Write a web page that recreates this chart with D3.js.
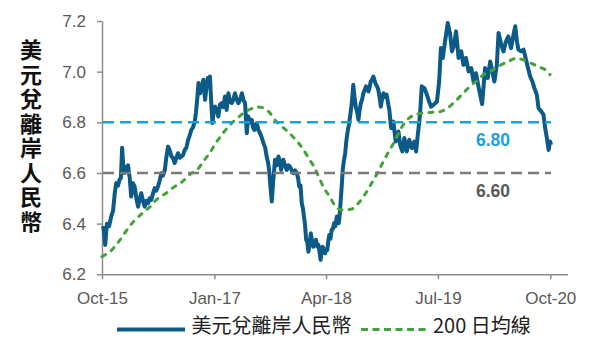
<!DOCTYPE html>
<html>
<head>
<meta charset="utf-8">
<script src="https://cdn.jsdelivr.net/npm/d3@7"></script>
<style>
  body { margin: 0; background: #fff; }
  svg { display: block; }
  .axis path, .axis line { stroke: #8c8c8c; stroke-width: 1.5; }
  .axis text { fill: #595959; font-size: 17px; font-family: "Liberation Sans", Arial, sans-serif; }
  .cjk { font-family: "Noto Sans CJK TC", "Noto Sans CJK SC", sans-serif; }
</style>
</head>
<body>
<div id="chart"></div>
<script>
// USD/CNH closes (sampled) and the 200-day moving average
const fxDates = [
  "2015-10-05","2015-10-09","2015-10-14","2015-10-21","2015-10-30","2015-11-08","2015-11-15","2015-11-22","2015-11-28","2015-12-05",
  "2015-12-12","2015-12-17","2015-12-22","2015-12-26","2015-12-30","2016-01-07","2016-01-15","2016-01-22","2016-01-28","2016-02-04",
  "2016-02-11","2016-02-18","2016-02-25","2016-03-03","2016-03-09","2016-03-16","2016-03-23","2016-03-30","2016-04-06","2016-04-12",
  "2016-04-19","2016-04-26","2016-05-03","2016-05-09","2016-05-16","2016-05-23","2016-05-30","2016-06-06","2016-06-13","2016-06-19",
  "2016-06-26","2016-07-03","2016-07-10","2016-07-16","2016-07-23","2016-07-30","2016-08-06","2016-08-13","2016-08-19","2016-08-26",
  "2016-09-02","2016-09-09","2016-09-16","2016-09-23","2016-09-29","2016-10-06","2016-10-13","2016-10-18","2016-10-24","2016-10-28",
  "2016-11-04","2016-11-10","2016-11-17","2016-11-24","2016-11-29","2016-12-05","2016-12-10","2016-12-14","2016-12-18","2016-12-24",
  "2016-12-29","2017-01-04","2017-01-11","2017-01-17","2017-01-24","2017-01-31","2017-02-06","2017-02-13","2017-02-20","2017-02-27",
  "2017-03-06","2017-03-13","2017-03-19","2017-03-26","2017-04-02","2017-04-09","2017-04-16","2017-04-23","2017-04-29","2017-05-06",
  "2017-05-13","2017-05-19","2017-05-26","2017-06-02","2017-06-07","2017-06-13","2017-06-18","2017-06-23","2017-06-29","2017-07-06",
  "2017-07-13","2017-07-20","2017-07-27","2017-08-02","2017-08-08","2017-08-12","2017-08-17","2017-08-23","2017-08-28","2017-09-05",
  "2017-09-12","2017-09-19","2017-09-26","2017-09-30","2017-10-09","2017-10-16","2017-10-23","2017-10-30","2017-11-05","2017-11-12",
  "2017-11-19","2017-11-26","2017-12-03","2017-12-08","2017-12-13","2017-12-18","2017-12-23","2017-12-28","2018-01-01","2018-01-05",
  "2018-01-10","2018-01-14","2018-01-19","2018-01-24","2018-01-29","2018-02-03","2018-02-08","2018-02-14","2018-02-19","2018-02-24",
  "2018-03-01","2018-03-05","2018-03-10","2018-03-14","2018-03-18","2018-03-24","2018-03-28","2018-04-02","2018-04-06","2018-04-10",
  "2018-04-14","2018-04-19","2018-04-24","2018-04-29","2018-05-04","2018-05-09","2018-05-15","2018-05-19","2018-05-23","2018-05-27",
  "2018-05-31","2018-06-04","2018-06-08","2018-06-13","2018-06-18","2018-06-22","2018-06-27","2018-07-03","2018-07-08","2018-07-15",
  "2018-07-21","2018-07-26","2018-07-31","2018-08-06","2018-08-11","2018-08-16","2018-08-21","2018-08-26","2018-08-31","2018-09-06",
  "2018-09-11","2018-09-16","2018-09-21","2018-09-26","2018-09-30","2018-10-06","2018-10-11","2018-10-17","2018-10-22","2018-10-27",
  "2018-10-31","2018-11-05","2018-11-10","2018-11-15","2018-11-21","2018-11-28","2018-12-04","2018-12-11","2018-12-15","2018-12-22",
  "2018-12-31","2019-01-10","2019-01-21","2019-01-28","2019-02-06","2019-02-14","2019-02-24","2019-03-06","2019-03-17","2019-03-27",
  "2019-04-03","2019-04-10","2019-04-19","2019-04-26","2019-05-07","2019-05-17","2019-05-26","2019-06-03","2019-06-13","2019-06-27",
  "2019-07-06","2019-07-13","2019-07-21","2019-07-30","2019-08-10","2019-08-20","2019-08-27","2019-09-05","2019-09-13","2019-09-23",
  "2019-10-04","2019-10-13","2019-10-23","2019-11-03","2019-11-14","2019-11-23","2019-12-03","2019-12-13","2019-12-28","2020-01-09",
  "2020-01-20","2020-01-30","2020-02-08","2020-02-16","2020-02-26","2020-03-04","2020-03-15","2020-03-24","2020-04-03","2020-04-13",
  "2020-04-24","2020-05-04","2020-05-11","2020-05-18","2020-05-24","2020-06-04","2020-06-14","2020-06-24","2020-07-02","2020-07-11",
  "2020-07-20","2020-07-28","2020-08-07","2020-08-14","2020-08-25","2020-09-03","2020-09-10","2020-09-17","2020-09-24","2020-09-30",
  "2020-10-04"
];
const fxRates = [
  6.390,6.370,6.316,6.400,6.390,6.430,6.450,6.520,6.560,6.550,
  6.575,6.580,6.700,6.640,6.600,6.620,6.630,6.580,6.507,6.560,
  6.546,6.500,6.467,6.500,6.520,6.490,6.467,6.490,6.481,6.500,
  6.494,6.520,6.540,6.530,6.546,6.570,6.599,6.590,6.612,6.660,
  6.704,6.690,6.665,6.660,6.639,6.660,6.678,6.660,6.665,6.670,
  6.691,6.700,6.731,6.750,6.770,6.780,6.803,6.840,6.902,6.955,
  6.915,6.940,6.968,6.889,6.930,6.975,6.950,6.981,6.900,6.797,
  6.840,6.862,6.850,6.823,6.870,6.876,6.860,6.902,6.849,6.915,
  6.880,6.876,6.890,6.915,6.890,6.876,6.890,6.915,6.890,6.876,
  6.757,6.823,6.800,6.810,6.780,6.770,6.790,6.797,6.770,6.757,
  6.740,6.718,6.700,6.665,6.640,6.612,6.550,6.487,6.560,6.652,
  6.630,6.665,6.640,6.612,6.652,6.630,6.612,6.630,6.625,6.610,
  6.599,6.610,6.599,6.580,6.546,6.550,6.481,6.460,6.428,6.400,
  6.336,6.330,6.289,6.320,6.362,6.330,6.309,6.330,6.336,6.310,
  6.316,6.290,6.257,6.290,6.309,6.290,6.283,6.300,6.296,6.330,
  6.355,6.340,6.375,6.380,6.402,6.390,6.428,6.410,6.402,6.440,
  6.494,6.550,6.612,6.650,6.678,6.720,6.757,6.790,6.823,6.876,
  6.948,6.900,6.862,6.840,6.810,6.850,6.876,6.890,6.915,6.930,
  6.942,6.930,6.922,6.940,6.961,6.970,6.981,6.960,6.948,6.940,
  6.928,6.900,6.862,6.890,6.915,6.900,6.909,6.869,6.849,6.777,
  6.803,6.724,6.764,6.711,6.685,6.738,6.685,6.731,6.698,6.724,
  6.685,6.751,6.830,6.942,6.935,6.909,6.882,6.862,6.869,6.882,
  6.961,7.093,7.054,7.119,7.192,7.146,7.080,7.106,7.159,7.054,
  7.080,7.027,7.054,7.001,7.014,6.961,6.994,6.942,6.872,7.014,
  6.975,7.040,7.001,6.961,7.027,7.153,7.106,7.080,7.119,7.139,
  7.093,7.146,7.179,7.119,7.087,7.080,7.087,7.047,7.014,6.981,
  6.961,6.935,6.909,6.856,6.843,6.830,6.777,6.738,6.691,6.724,
  6.711
];
const maDates = [
  "2015-10-01","2015-11-03","2015-12-05","2016-01-07","2016-02-08","2016-03-12","2016-04-14","2016-05-16","2016-06-18","2016-07-21",
  "2016-08-22","2016-09-24","2016-10-22","2016-11-20","2016-12-14","2017-01-08","2017-02-05","2017-03-06","2017-04-03","2017-05-02",
  "2017-05-30","2017-06-24","2017-07-18","2017-08-12","2017-09-09","2017-10-08","2017-11-05","2017-12-04","2017-12-28","2018-01-22",
  "2018-02-11","2018-02-28","2018-03-24","2018-04-17","2018-05-08","2018-05-28","2018-06-22","2018-07-16","2018-08-10","2018-09-03",
  "2018-09-28","2018-10-22","2018-11-15","2018-12-10","2019-01-03","2019-01-28","2019-02-21","2019-03-18","2019-04-19","2019-05-30",
  "2019-07-10","2019-08-07","2019-09-09","2019-10-12","2019-11-09","2019-12-08","2020-01-05","2020-02-07","2020-03-11","2020-04-12",
  "2020-05-11","2020-06-08","2020-07-11","2020-08-12","2020-09-10","2020-09-30"
];
const maRates = [
  6.270,6.290,6.325,6.370,6.410,6.440,6.467,6.500,6.520,6.545,
  6.565,6.595,6.612,6.650,6.680,6.720,6.757,6.790,6.815,6.838,
  6.853,6.860,6.857,6.840,6.805,6.780,6.755,6.725,6.695,6.655,
  6.625,6.590,6.540,6.505,6.470,6.455,6.455,6.458,6.480,6.510,
  6.550,6.590,6.635,6.680,6.720,6.770,6.805,6.825,6.835,6.839,
  6.842,6.855,6.882,6.915,6.942,6.965,6.990,7.005,7.025,7.040,
  7.052,7.048,7.035,7.020,7.008,6.988
];
const yTicks = [6.2, 6.4, 6.6, 6.8, 7.0, 7.2];
const xTickDates = ["2015-10-01", "2017-01-01", "2018-04-01", "2019-07-01", "2020-10-01"];
const xTickLabels = ["Oct-15", "Jan-17", "Apr-18", "Jul-19", "Oct-20"];
const refLevels = [6.8, 6.6];
const refLabels = ["6.80", "6.60"];
const seriesNames = ["美元兌離岸人民幣", "200 日均線"];
const axisTitle = "美元兌離岸人民幣";

const width = 591;
const height = 338;
const parse = d3.timeParse("%Y-%m-%d");

const fx = fxDates.map((d, i) => ({ date: parse(d), value: fxRates[i] }));
const ma = maDates.map((d, i) => ({ date: parse(d), value: maRates[i] }));

const svg = d3.select("#chart")
    .append("svg")
    .attr("width", width)
    .attr("height", height);

// Scales
const x = d3.scaleTime()
    .domain([parse("2015-10-01"), parse("2020-12-10")])
    .range([102, 567.5]);

const y = d3.scaleLinear()
    .domain([6.2, 7.2])
    .range([274.3, 21]);

// Axes
svg.append("g")
    .attr("class", "axis")
    .attr("transform", `translate(0,${y(6.2)})`)
    .call(d3.axisBottom(x)
        .tickValues(xTickDates.map(parse))
        .tickFormat((d, i) => xTickLabels[i])
        .tickSize(5)
        .tickSizeOuter(0)
        .tickPadding(12.4));

svg.append("g")
    .attr("class", "axis")
    .attr("transform", `translate(${x.range()[0]},0)`)
    .call(d3.axisLeft(y)
        .tickValues(yTicks)
        .tickFormat(d3.format(".1f"))
        .tickSize(5)
        .tickSizeOuter(0)
        .tickPadding(11));

// Vertical axis title, set top-to-bottom
svg.append("text")
    .attr("class", "cjk")
    .attr("x", 31)
    .attr("y", 137)
    .attr("writing-mode", "vertical-rl")
    .attr("text-anchor", "middle")
    .attr("font-size", 22)
    .attr("letter-spacing", 2.5)
    .attr("font-weight", "bold")
    .attr("fill", "#111")
    .text(axisTitle);

// Series lines
const line = d3.line()
    .x(d => x(d.date))
    .y(d => y(d.value));

svg.append("path")
    .datum(fx)
    .attr("fill", "none")
    .attr("stroke", "#0b5a88")
    .attr("stroke-width", 4)
    .attr("stroke-linejoin", "round")
    .attr("d", line);

svg.append("path")
    .datum(ma)
    .attr("fill", "none")
    .attr("stroke", "#43a23a")
    .attr("stroke-width", 3)
    .attr("stroke-dasharray", "4,7")
    .attr("stroke-linecap", "round")
    .attr("d", line.curve(d3.curveCatmullRom));

// Reference levels
const refColor = ["#19a1dc", "#7a7a7a"];
const refText = ["#19a1dc", "#595959"];
const x0 = x.range()[0];
const x1 = x(fx[fx.length - 1].date);

svg.selectAll(".ref")
    .data(refLevels)
    .enter()
    .append("line")
    .attr("class", "ref")
    .attr("x1", x0 + 1)
    .attr("x2", x1)
    .attr("y1", d => y(d))
    .attr("y2", d => y(d))
    .attr("stroke", (d, i) => refColor[i])
    .attr("stroke-width", 2.5)
    .attr("stroke-dasharray", "11,6");

svg.selectAll(".ref-label")
    .data(refLevels)
    .enter()
    .append("text")
    .attr("class", "ref-label")
    .attr("x", 493)
    .attr("y", d => y(d) + 24)
    .attr("text-anchor", "middle")
    .attr("font-family", "'Liberation Sans', Arial, sans-serif")
    .attr("font-size", 17.5)
    .attr("font-weight", "bold")
    .attr("fill", (d, i) => refText[i])
    .text((d, i) => refLabels[i]);

// Legend
const legend = svg.append("g").attr("class", "cjk");

legend.append("line")
    .attr("x1", 117).attr("x2", 185)
    .attr("y1", 329.5).attr("y2", 329.5)
    .attr("stroke", "#0b5a88")
    .attr("stroke-width", 4);

legend.append("line")
    .attr("x1", 361).attr("x2", 428)
    .attr("y1", 329.5).attr("y2", 329.5)
    .attr("stroke", "#43a23a")
    .attr("stroke-width", 3)
    .attr("stroke-dasharray", "7,4.5");

legend.selectAll("text")
    .data(seriesNames)
    .enter()
    .append("text")
    .attr("x", (d, i) => i === 0 ? 191.5 : 433)
    .attr("y", 324.5)
    .attr("dominant-baseline", "central")
    .attr("font-size", 20)
    .attr("fill", "#222")
    .text(d => d);
</script>
</body>
</html>
